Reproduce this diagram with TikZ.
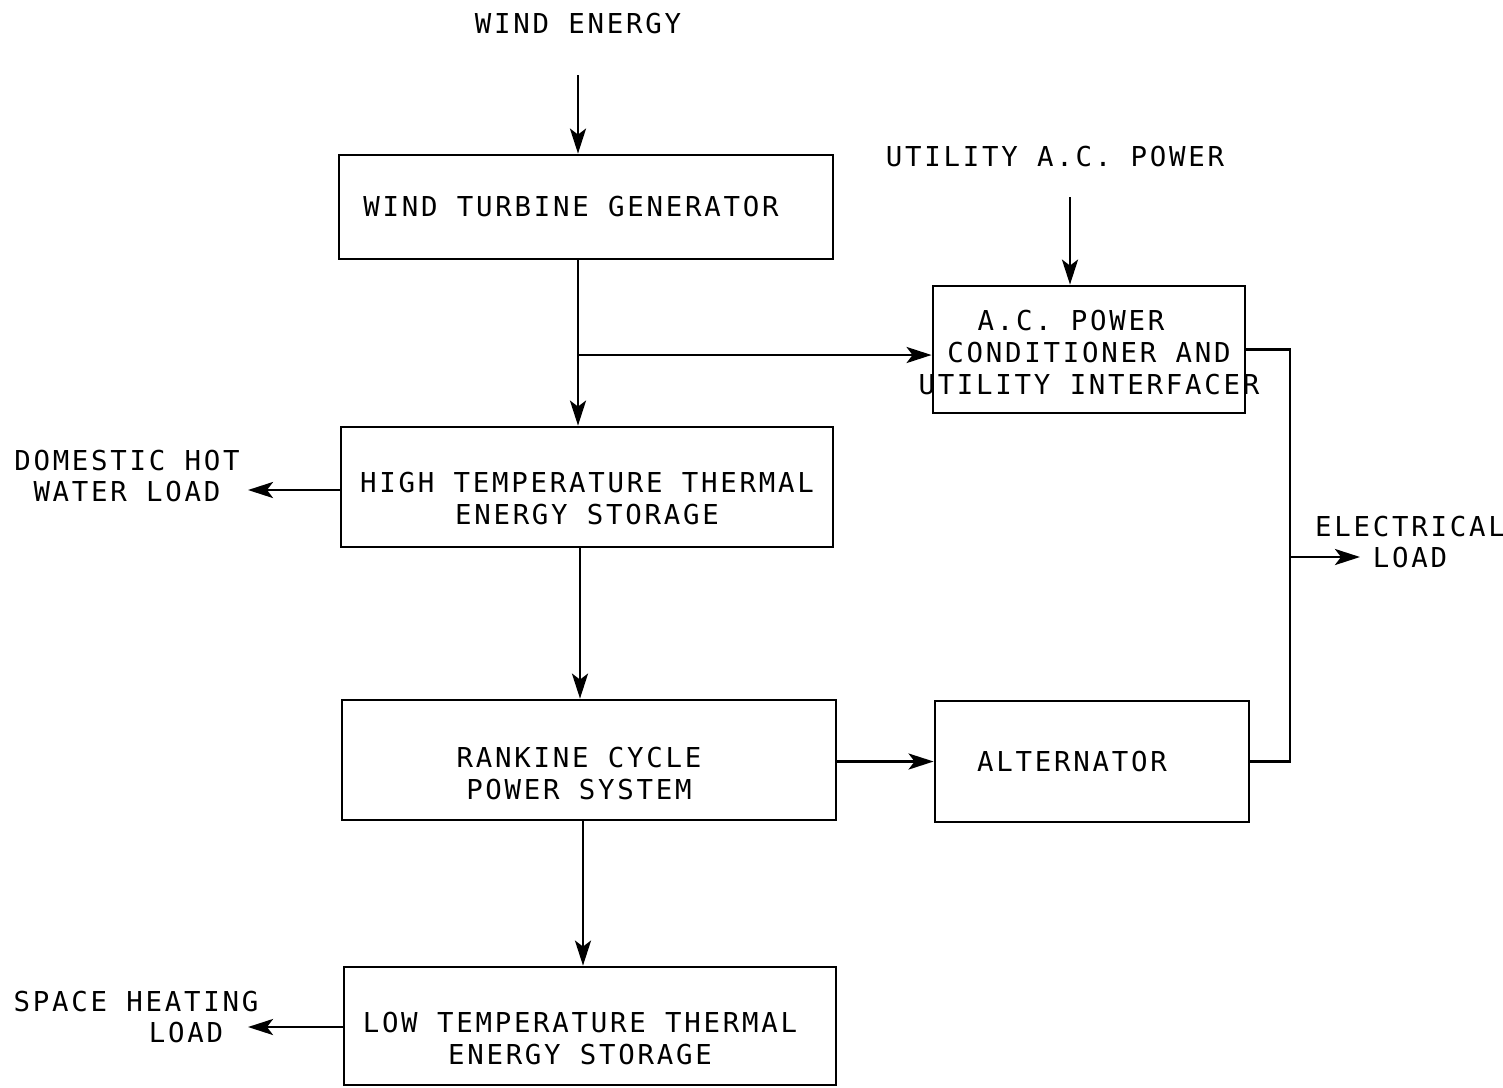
\documentclass[tikz,border=0pt]{standalone}
\usepackage{fontspec}
\setmonofont{DejaVu Sans Mono}[LetterSpace=10]
\usepackage{tikz}
\usetikzlibrary{arrows.meta, positioning}

\begin{document}
\begin{tikzpicture}[font=\ttfamily\fontsize{7.8}{9.1}\selectfont,
    block/.style={draw, line width=0.8pt, align=center, inner sep=0pt},
    flow/.style={-{Stealth[length=2.5mm,width=1.6mm,inset=0.6mm]}, line width=0.8pt},
    wire/.style={line width=0.8pt}]
\useasboundingbox (0,0) rectangle (15.03,-10.87);

\node[block, minimum width=4.94cm, minimum height=1.04cm] (wtg) at (5.86,-2.07) {\hspace*{-0.3cm}WIND TURBINE GENERATOR};
\node[block, minimum width=3.12cm, minimum height=1.27cm] (acpc) at (10.89,-3.495) {\hspace*{-0.36cm}A.C. POWER\\CONDITIONER AND\\\makebox[0pt]{UTILITY INTERFACER}\\[-0.38cm]};
\node[block, minimum width=4.92cm, minimum height=1.20cm] (htes) at (5.87,-4.87) {HIGH TEMPERATURE THERMAL\\ENERGY STORAGE\\[-0.54cm]};
\node[block, minimum width=4.94cm, minimum height=1.20cm] (rankine) at (5.89,-7.60) {\hspace*{-0.2cm}RANKINE CYCLE\\\hspace*{-0.2cm}POWER SYSTEM\\[-0.58cm]};
\node[block, minimum width=3.14cm, minimum height=1.21cm] (alt) at (10.92,-7.615) {\hspace*{-0.4cm}ALTERNATOR};
\node[block, minimum width=4.92cm, minimum height=1.18cm] (ltes) at (5.90,-10.26) {\hspace*{-0.2cm}LOW TEMPERATURE THERMAL\\\hspace*{-0.2cm}ENERGY STORAGE\\[-0.56cm]};

\node (wind) at (5.78,-0.24) {WIND ENERGY};
\node (utility) at (10.55,-1.57) {UTILITY A.C. POWER};
\node[align=center] (dhw) at (1.27,-4.76) {DOMESTIC HOT\\WATER LOAD};
\node[align=center] (elec) at (14.10,-5.42) {ELECTRICAL\\LOAD};
\node[align=center] (heat) at (1.36,-10.17) {SPACE HEATING\\\hspace*{1cm}LOAD};

\coordinate (windin) at (5.78,-0.75);
\coordinate (utilin) at (10.70,-1.97);
\coordinate (tap) at (5.78,-3.55);
\coordinate (bus) at (12.90,-5.57);
\coordinate (elecend) at (13.60,-5.57);
\coordinate (dhwend) at (2.48,-4.90);
\coordinate (heatend) at (2.48,-10.27);

\draw[flow] (windin) -- (windin |- wtg.north);
\draw[flow] (utilin) -- (utilin |- acpc.north);
\draw[wire] (tap |- wtg.south) -- (tap);
\draw[flow] (tap) -- (tap |- htes.north);
\draw[flow] (tap) -- (tap -| acpc.west);
\draw[flow] (htes.west |- dhwend) -- (dhwend);
\draw[flow] (htes.south -| 5.80,0) -- (rankine.north -| 5.80,0);
\draw[flow] (rankine.east |- alt.west) -- (alt.west);
\draw[wire] (acpc.east) -| (bus) |- (alt.east);
\draw[flow] (bus) -- (elecend);
\draw[flow] (rankine.south -| 5.83,0) -- (ltes.north -| 5.83,0);
\draw[flow] (ltes.west |- heatend) -- (heatend);
\end{tikzpicture}
\end{document}
